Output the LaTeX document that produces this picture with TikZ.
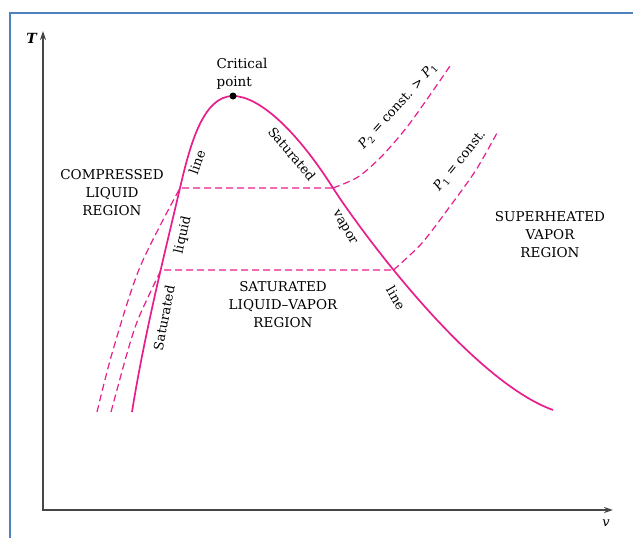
\documentclass[tikz,border=0pt]{standalone}
\usepackage{fontspec}
\setmainfont{DejaVu Serif}
\usetikzlibrary{arrows.meta}
\definecolor{pinkc}{RGB}{232,30,140}
\definecolor{framec}{RGB}{79,129,189}
\definecolor{axisc}{RGB}{70,70,70}
\begin{document}
\begin{tikzpicture}[x=1pt,y=-1pt,
  region/.style={font=\fontsize{13.5}{18}\selectfont, align=center, inner sep=0pt},
  small/.style={font=\fontsize{13}{15}\selectfont, inner sep=0pt},
  dome/.style={draw=pinkc, line width=1.7pt},
  isobar/.style={draw=pinkc, line width=1.2pt, dash pattern=on 7pt off 4pt},
  axis/.style={draw=axisc, line width=1.6pt, {Stealth[length=9pt,width=6pt]}-{Stealth[length=9pt,width=6pt]}}]
\useasboundingbox (0,0) rectangle (633,538);
\fill[white] (0,0) rectangle (633,538);
% frame
\draw[framec, line width=2.2pt] (10,545) -- (10,13) -- (640,13);
% axes
\coordinate (O) at (43,510);
\coordinate (Ttip) at (43,31);
\coordinate (vtip) at (613,510);
\draw[axis] (Ttip) -- (O) -- (vtip);
\node[font=\fontsize{14}{15}\selectfont] (Tl) at (32,38) {\textbf{\textit{T}}};
\node[font=\fontsize{13}{15}\selectfont] (vl) at (606,523) {\textit{v}};
% key points
\coordinate (Lb) at (132,412);
\coordinate (L1) at (180,188);
\coordinate (L2) at (161,270);
\coordinate (CP) at (233,96);
\coordinate (V1) at (333,188);
\coordinate (V2) at (393.5,270);
\coordinate (Vb) at (553,410);
% isobars
\draw[isobar] plot[smooth, tension=0.5] coordinates {(97,412) (113,350) (140,267) (180,188)}
  -- (V1) plot[smooth, tension=0.5] coordinates {(333,188) (358,177) (382,156) (407,127) (430,95) (450,66)};
\draw[isobar] plot[smooth, tension=0.5] coordinates {(111,412) (128,350) (139,317) (161,270)}
  -- (V2) plot[smooth, tension=0.5] coordinates {(393.5,270) (422,243) (451,205) (476,170) (497,133)};
% saturation dome
\draw[dome] (Lb) .. controls (145,330) and (168,240) .. (L1)
  .. controls (190,145) and (203,96) .. (CP)
  .. controls (258,96) and (295,128) .. (V1)
  .. controls (360,230) and (470,380) .. (Vb);
\node[circle, fill=black, inner sep=0pt, minimum size=7pt] (cp) at (CP) {};
% labels
\node[region, align=left] (cpl) at (242,74) {Critical\\point};
\node[region] (comp) at (112,193) {COMPRESSED\\LIQUID\\REGION};
\node[region] (satr) at (283,305) {SATURATED\\LIQUID--VAPOR\\REGION};
\node[region] (sup) at (550,235) {SUPERHEATED\\VAPOR\\REGION};
\node[small, rotate=-50] (sv1) at (292,154) {Saturated};
\node[small, rotate=-60] (sv2) at (344,228) {vapor};
\node[small, rotate=-60] (sv3) at (396,298) {line};
\node[small, rotate=70] (sl3) at (197,162) {line};
\node[small, rotate=77] (sl2) at (183,235) {liquid};
\node[small, rotate=79] (sl1) at (164,318) {Saturated};
\node[small, rotate=48] (p2) at (398,106) {\textit{P}\textsubscript{2} = const. > \textit{P}\textsubscript{1}};
\node[small, rotate=51] (p1) at (460,161) {\textit{P}\textsubscript{1} = const.};
\end{tikzpicture}
\end{document}
